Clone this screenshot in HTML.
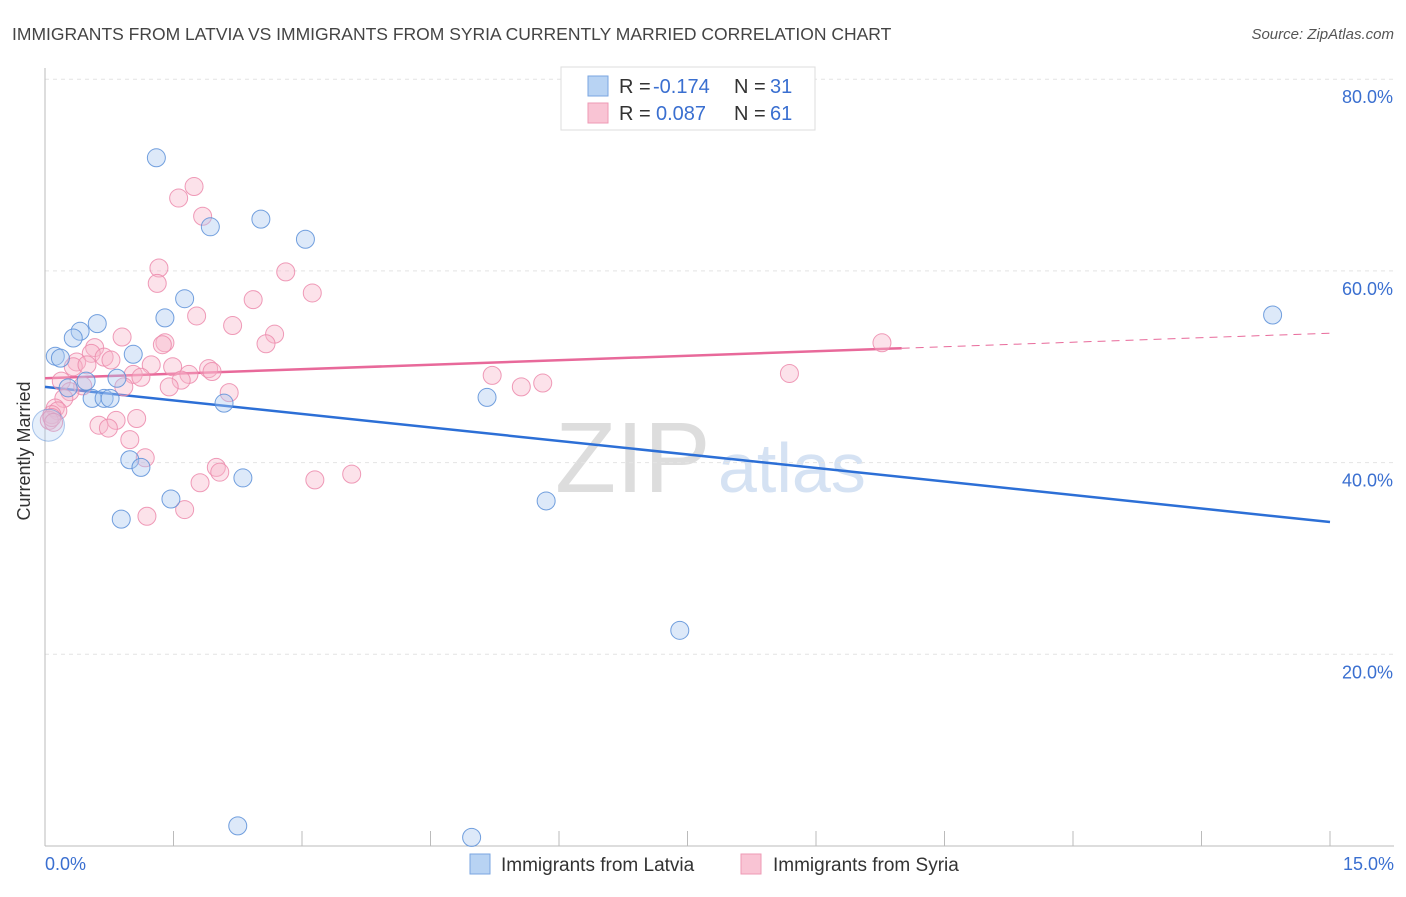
<!DOCTYPE html>
<html><head><meta charset="utf-8"><style>
body{margin:0;background:#fff;font-family:"Liberation Sans",sans-serif;}
svg text{font-family:"Liberation Sans",sans-serif;}
</style></head><body>
<svg id="chart" width="1406" height="892" xmlns="http://www.w3.org/2000/svg">
<text x="12" y="40" font-size="17.5" fill="#444">IMMIGRANTS FROM LATVIA VS IMMIGRANTS FROM SYRIA CURRENTLY MARRIED CORRELATION CHART</text>
<text x="1394" y="39" font-size="15" fill="#555" font-style="italic" text-anchor="end">Source: ZipAtlas.com</text>
<text x="36" y="457" font-size="18" fill="#333" transform="rotate(-90 30 457)" text-anchor="middle">Currently Married</text>
<text x="555" y="492" font-size="100" fill="#ddd" font-family="Liberation Serif">ZIP</text>
<text x="718" y="492" font-size="70" fill="#d5e2f3">atlas</text>
<g id="grid"></g><g id="axes"></g><g id="trend"></g><g id="pts"></g>
<g>
<rect x="561" y="67" width="254" height="63" fill="#fff" stroke="#ddd"/>
<rect x="588" y="76" width="20" height="20" fill="#b8d3f3" stroke="#7aa6e0"/>
<rect x="588" y="103" width="20" height="20" fill="#f9c4d4" stroke="#ee9ab5"/>
<text x="619" y="93" font-size="20" fill="#333">R =</text>
<text x="653" y="93" font-size="20" fill="#3a6fd0">-0.174</text>
<text x="734" y="93" font-size="20" fill="#333">N =</text>
<text x="770" y="93" font-size="20" fill="#3a6fd0">31</text>
<text x="619" y="120" font-size="20" fill="#333">R =</text>
<text x="656" y="120" font-size="20" fill="#3a6fd0">0.087</text>
<text x="734" y="120" font-size="20" fill="#333">N =</text>
<text x="770" y="120" font-size="20" fill="#3a6fd0">61</text>
</g>
<g>
<rect x="470" y="854" width="20" height="20" fill="#b8d3f3" stroke="#7aa6e0"/>
<text x="501" y="871" font-size="19" fill="#333">Immigrants from Latvia</text>
<rect x="741" y="854" width="20" height="20" fill="#f9c4d4" stroke="#ee9ab5"/>
<text x="773" y="871" font-size="19" fill="#333">Immigrants from Syria</text>
</g>
</svg>
<script>
const latviaX=[1.30,1.93,2.52,3.04,1.63,1.40,0.61,0.41,0.33,0.12,0.18,1.03,0.84,0.48,0.27,0.55,0.69,0.76,2.09,0.99,1.12,2.31,1.47,0.89,5.16,5.85,7.41,14.33,2.25,4.98,0.04];
const latviaY=[71.8,64.6,65.4,63.3,57.1,55.1,54.5,53.7,53.0,51.1,50.9,51.3,48.8,48.5,47.8,46.7,46.7,46.7,46.2,40.3,39.5,38.4,36.2,34.1,46.8,36.0,22.5,55.4,2.1,0.9,43.9];
const syriaX=[1.74,1.56,1.84,1.33,1.31,2.81,3.12,2.43,1.77,2.19,2.68,0.90,1.40,1.37,2.58,0.58,0.54,0.69,0.77,0.37,1.24,0.33,0.49,1.49,1.91,1.95,1.68,1.03,1.12,1.59,0.19,0.44,0.92,1.45,2.15,0.29,0.22,0.12,0.15,0.08,0.05,0.83,1.07,0.63,0.74,0.99,1.17,2.00,2.04,1.81,3.15,3.58,1.63,1.19,5.22,5.56,5.81,8.69,9.77,0.08,0.10];
const syriaY=[68.8,67.6,65.7,60.3,58.7,59.9,57.7,57.0,55.3,54.3,53.4,53.1,52.5,52.3,52.4,52.0,51.4,51.0,50.7,50.5,50.2,50.0,50.2,50.0,49.8,49.5,49.2,49.2,48.9,48.6,48.5,48.0,47.9,47.9,47.3,47.4,46.7,45.7,45.4,45.0,44.4,44.4,44.6,43.9,43.6,42.4,40.5,39.5,39.0,37.9,38.2,38.8,35.1,34.4,49.1,47.9,48.3,49.3,52.5,44.7,44.2];
const latviaTrend=[47.9,33.8];
const syriaTrend=[48.8,53.5];
const syriaSolidEnd=10.0;
const yTicks=[20,40,60,80];
const NS="http://www.w3.org/2000/svg";
const X=v=>45+v/15*1285, Y=v=>846-v*9.585;
function mk(t,a,p){const e=document.createElementNS(NS,t);for(const k in a)e.setAttribute(k,a[k]);p.appendChild(e);return e;}
const grid=document.getElementById('grid'),axes=document.getElementById('axes');
yTicks.forEach(t=>{
 const l=mk('line',{x1:45,x2:1394,y1:Y(t),y2:Y(t),stroke:'#e4e4e4','stroke-dasharray':'4,4'},grid);
 
 
 const tx=mk('text',{x:1393,y:Y(t)+24,'font-size':18,fill:'#3a6fd0','text-anchor':'end'},axes);tx.textContent=t.toFixed(1)+'%';
 
 
});
let a=mk('line',{x1:45,x2:45,y1:68,y2:846,stroke:'#bbb'},axes);


a=mk('line',{x1:45,x2:1394,y1:846,y2:846,stroke:'#bbb'},axes);


for(let i=1;i<=10;i++){const t=mk('line',{x1:X(i*1.5),x2:X(i*1.5),y1:831,y2:846,stroke:'#bbb'},axes);
 
 }
let tl=mk('text',{x:45,y:870,'font-size':18,fill:'#3a6fd0'},axes);tl.textContent='0.0%';


tl=mk('text',{x:1394,y:870,'font-size':18,fill:'#3a6fd0','text-anchor':'end'},axes);tl.textContent='15.0%';


const pts=document.getElementById('pts');
function dots(xs,ys,fill,stroke,name){xs.forEach((x,i)=>{const big=(i===xs.length-1&&name==='latvia');const r=big?16:9;
 const c=mk('circle',{cx:X(x),cy:Y(ys[i]),r:r,fill:fill,'fill-opacity':big?0.3:0.4,stroke:stroke,'stroke-opacity':big?0.5:0.85,'stroke-width':1},pts);
 
 });}
dots(syriaX,syriaY,'#f7b6ca','#ec8aab','syria');
dots(latviaX,latviaY,'#a9c9f1','#5b8fd8','latvia');
const tr=document.getElementById('trend');
let l1=mk('line',{x1:X(0),y1:Y(latviaTrend[0]),x2:X(15),y2:Y(latviaTrend[1]),stroke:'#2c6fd6','stroke-width':2.5},tr);


const sy=v=>syriaTrend[0]+(syriaTrend[1]-syriaTrend[0])*v/15;
let l2=mk('line',{x1:X(0),y1:Y(sy(0)),x2:X(syriaSolidEnd),y2:Y(sy(syriaSolidEnd)),stroke:'#e8699a','stroke-width':2.5},tr);


let l3=mk('line',{x1:X(syriaSolidEnd),y1:Y(sy(syriaSolidEnd)),x2:X(15),y2:Y(sy(15)),stroke:'#e8699a','stroke-width':1,'stroke-dasharray':'8,6'},tr);


</script>
</body></html>
